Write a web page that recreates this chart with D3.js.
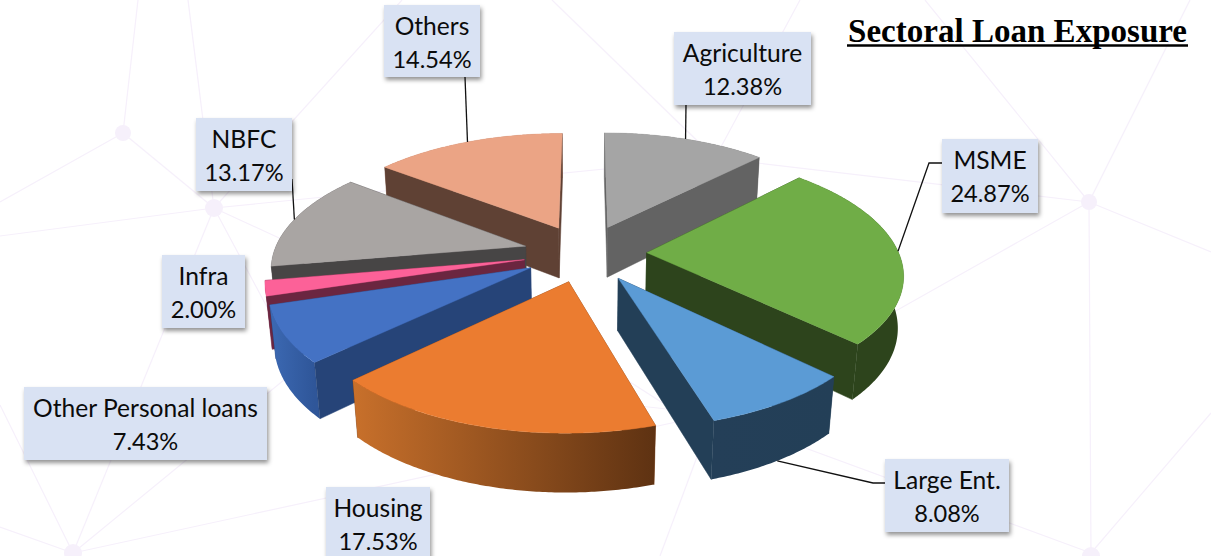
<!DOCTYPE html>
<html>
<head>
<meta charset="utf-8">
<script src="https://cdn.jsdelivr.net/npm/d3@7/dist/d3.min.js"></script>
<style>
html,body{margin:0;padding:0;background:#fff;overflow:hidden}
svg{display:block}
</style>
</head>
<body>
<svg id="chart" width="1211" height="556"></svg>
<script>
// ---------- data ----------
const categories = ["Agriculture","MSME","Large Ent.","Housing","Other Personal loans","Infra","NBFC","Others"];
const shares = [12.38,24.87,8.08,17.53,7.43,2.00,13.17,14.54];
const titleText = "Sectoral Loan Exposure";

// ---------- styles ----------
const topColors  = ["#A5A5A5","#70AD47","#5B9BD5","#EB7C30","#4472C4","#FC6198","#A9A5A3","#EBA485"];
const wallColors = ["#636363","#2D441C","#233F57","#7A3F17","#264478","#6B2640","#474545","#5F4134"];
const rimFrom    = ["#7A7A7A","#2D441C","#243F58","#C8702B","#3C69B3","#86224D","#474545","#B0775E"];
const rimTo      = ["#636363","#2D441C","#233F57","#5E3212","#2F5699","#86224D","#474545","#B0775E"];

// ---------- label layout ----------
const labelBoxes = [
  [674,32,137,73],[942,139,96,74],[885,459,124,73],[326,487,104,73],
  [24,387,243,73],[162,255,83,73],[196,118,96,73],[384,5,96,72]
];
const leaderElbows = [
  [[686,105]],
  [[942,163],[929,163]],
  [[885,483],[873,483]],
  null,
  null,
  null,
  [[292,179]],
  [[465,77]]
];
const leaderOnBase = [false,false,true,false,false,false,false,false];

// ---------- backdrop ----------
const backdropNodes = [[123,133,8],[214,208,9],[1089,202,8],[73,553,9],[1091,556,9]];
const backdropEdges = [
  [[123,133],[138,0]],[[214,208],[188,0]],[[123,133],[214,208]],[[123,133],[0,202]],
  [[214,208],[0,236]],[[214,208],[402,0]],[[214,208],[715,158]],[[214,208],[73,553]],
  [[214,208],[275,322]],[[214,208],[290,243]],[[73,553],[0,527]],[[73,553],[0,405]],
  [[73,553],[290,375]],[[73,553],[713,414]],[[713,414],[660,556]],[[713,414],[1091,553]],
  [[1089,202],[713,414]],[[1089,202],[925,0]],[[1089,202],[1190,0]],[[1089,202],[1211,252]],
  [[1089,202],[1091,556]],[[1089,202],[715,158]],[[1091,553],[1211,413]],
  [[715,158],[800,0]],[[715,158],[552,0]],[[630,382],[680,414]],[[630,405],[713,414]]
];

// ---------- projection of the tilted pie ----------
const view = {cx:585, cy:253, A:252, B:117, k:0.159, m:0.018, D:52, explode:0.245};
function project(X,Y,z){
  const w = 1 + view.k*Y + view.m*z;
  return [view.cx + view.A*X/w, view.cy + (-view.B*Y + view.D*z)/w];
}

const svg = d3.select("#chart");
const defs = svg.append("defs");
const shadow = defs.append("filter").attr("id","boxShadow")
  .attr("x","-10%").attr("y","-15%").attr("width","125%").attr("height","140%");
shadow.append("feDropShadow").attr("dx",1.5).attr("dy",3).attr("stdDeviation",2)
  .attr("flood-color","#000").attr("flood-opacity",0.42);

// backdrop
const bg = svg.append("g");
bg.selectAll("line").data(backdropEdges).join("line")
  .attr("x1",d=>d[0][0]).attr("y1",d=>d[0][1]).attr("x2",d=>d[1][0]).attr("y2",d=>d[1][1])
  .attr("stroke","#F6F0FB").attr("stroke-width",1.2);
bg.selectAll("circle").data(backdropNodes).join("circle")
  .attr("cx",d=>d[0]).attr("cy",d=>d[1]).attr("r",d=>d[2]).attr("fill","#F6F0FB");

// pie
const pie = d3.pie().sort(null).value(d=>d)(shares);
const line = d3.line();

const slices = pie.map((p,i)=>{
  const mid = (p.startAngle+p.endAngle)/2;
  const ox = view.explode*Math.sin(mid), oy = view.explode*Math.cos(mid);
  const world = a => [ox+Math.sin(a), oy+Math.cos(a)];
  const steps = d3.range(0, Math.ceil((p.endAngle-p.startAngle)/0.01)+1)
    .map(j=>Math.min(p.startAngle+j*0.01,p.endAngle));
  return {i,p,mid,ox,oy,world,steps};
});

const pieG = svg.append("g");
slices.slice().sort((a,b)=>d3.descending(a.oy,b.oy)).forEach(s=>{
  const g = pieG.append("g");
  const i = s.i;
  const apexT = project(s.ox,s.oy,0), apexB = project(s.ox,s.oy,1);
  const pt = (a,z)=>{const w=s.world(a);return project(w[0],w[1],z);};
  const a0 = s.p.startAngle, a1 = s.p.endAngle;
  const radial = a => g.append("path")
      .attr("d",line([apexT,pt(a,0),pt(a,1),apexB])+"Z")
      .attr("fill",wallColors[i]).attr("stroke",wallColors[i]).attr("stroke-width",0.5);

  // radial walls turned away from the viewer go underneath
  const startFront = Math.sin(a0) < 0, endFront = Math.sin(a1) > 0;
  if(!startFront) radial(a0);
  if(!endFront) radial(a1);

  // outer curved wall with a horizontal shading
  const topRim = s.steps.map(a=>pt(a,0));
  const baseRim = s.steps.map(a=>pt(a,1)).reverse();
  const xs = topRim.map(d=>d[0]);
  const gid = "rim"+i;
  const grad = defs.append("linearGradient").attr("id",gid)
    .attr("gradientUnits","userSpaceOnUse")
    .attr("x1",d3.min(xs)).attr("x2",d3.max(xs)).attr("y1",0).attr("y2",0);
  grad.append("stop").attr("offset",0).attr("stop-color",rimFrom[i]);
  grad.append("stop").attr("offset",1).attr("stop-color",rimTo[i]);
  g.append("path").attr("d",line(topRim.concat(baseRim))+"Z")
    .attr("fill",`url(#${gid})`);

  // radial walls facing the viewer
  if(startFront) radial(a0);
  if(endFront) radial(a1);

  // top face
  g.append("path").attr("d",line([apexT].concat(topRim))+"Z")
    .attr("fill",topColors[i]).attr("stroke",topColors[i]).attr("stroke-width",0.4);
});

// leader lines, ending on each slice's rim at its mid angle
const leaders = svg.append("g");
slices.forEach(s=>{
  if(!leaderElbows[s.i]) return;
  const w = s.world(s.mid);
  const end = project(w[0],w[1],leaderOnBase[s.i]?1:0);
  leaders.append("path").attr("d",line(leaderElbows[s.i].concat([end])))
    .attr("fill","none").attr("stroke","#111").attr("stroke-width",1.3);
});

// labels
const labels = svg.append("g").selectAll("g").data(categories).join("g")
  .attr("transform",(d,i)=>`translate(${labelBoxes[i][0]},${labelBoxes[i][1]})`);
labels.append("rect")
  .attr("width",(d,i)=>labelBoxes[i][2]).attr("height",(d,i)=>labelBoxes[i][3])
  .attr("fill","#D9E2F3").attr("filter","url(#boxShadow)");
const fmt = d3.format(".2f");
labels.append("text").attr("x",(d,i)=>labelBoxes[i][2]/2).attr("y",30)
  .attr("font-size",24.6).text(d=>d);
labels.append("text").attr("x",(d,i)=>labelBoxes[i][2]/2).attr("y",63)
  .attr("font-size",23.6).text((d,i)=>fmt(shares[i])+"%");
labels.selectAll("text")
  .attr("text-anchor","middle").attr("fill","#0b0b0b")
  .attr("font-family","Lato, 'Noto Sans', sans-serif");

// title
svg.append("text").attr("x",848).attr("y",42).text(titleText)
  .attr("font-family","'Liberation Serif', serif").attr("font-weight","bold")
  .attr("font-size",33).attr("fill","#000")
  .attr("textLength",339).attr("lengthAdjust","spacing");
svg.append("line").attr("x1",847).attr("x2",1188).attr("y1",45.5).attr("y2",45.5)
  .attr("stroke","#000").attr("stroke-width",2.4);
</script>
</body>
</html>
